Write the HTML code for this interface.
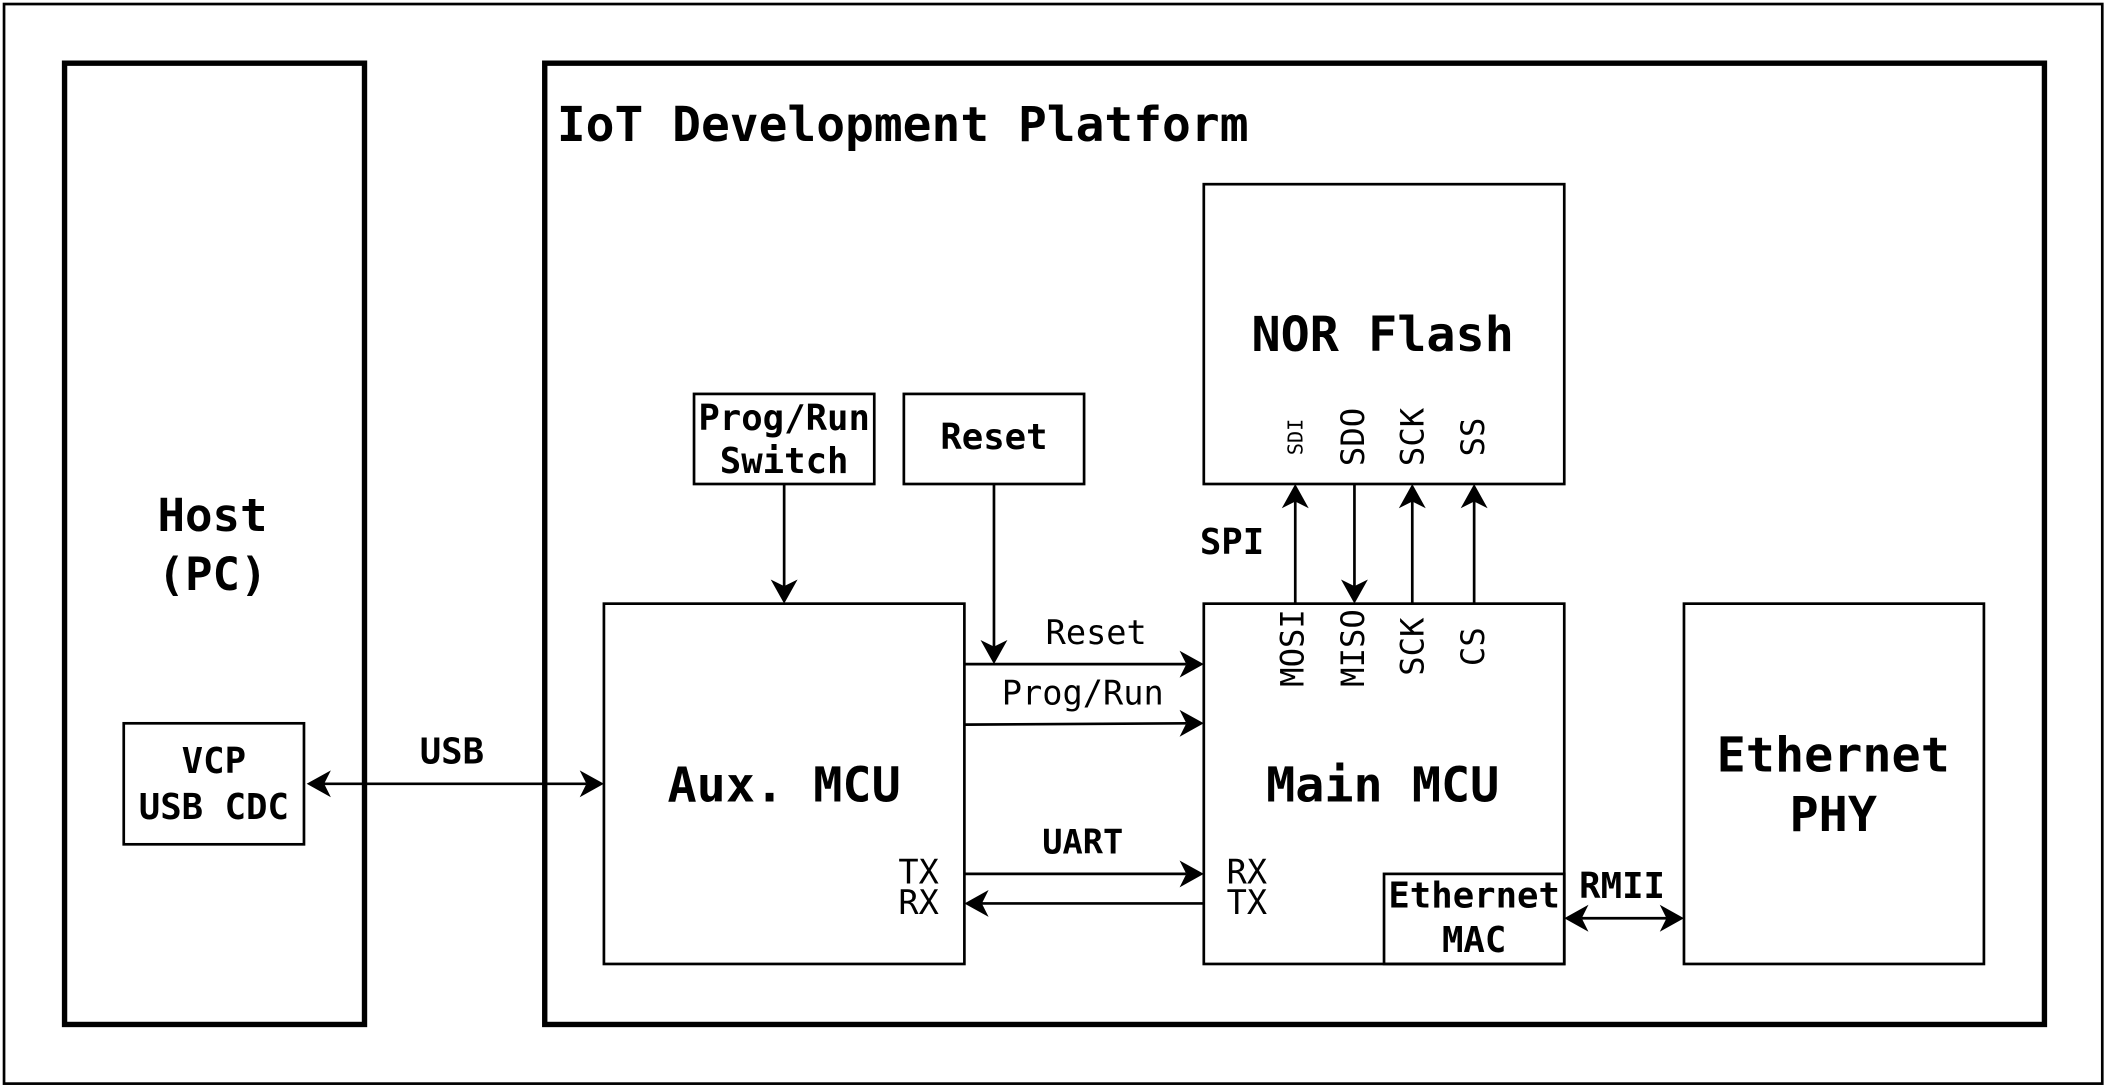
<!DOCTYPE html>
<html><head><meta charset="utf-8"><style>
html,body{margin:0;padding:0;background:#fff;}
svg{display:block;}
text{font-family:"DejaVu Sans Mono","Liberation Mono",monospace;fill:#000;}
.b{font-weight:bold;}
</style></head><body>
<svg width="2109" height="1089" viewBox="0 0 1568 810" preserveAspectRatio="none" xmlns="http://www.w3.org/2000/svg">
<g fill="none" stroke="#000">
<rect x="3" y="3" width="1560" height="803" stroke-width="2"/>
<rect x="48" y="47" width="223" height="715" stroke-width="4"/>
<rect x="405" y="47" width="1115" height="715" stroke-width="4"/>
<g stroke-width="2">
<rect x="895" y="137" width="268" height="223"/>
<rect x="516" y="293" width="134" height="67"/>
<rect x="672" y="293" width="134" height="67"/>
<rect x="449" y="449" width="268" height="268"/>
<rect x="895" y="449" width="268" height="268"/>
<rect x="1252" y="449" width="223" height="268"/>
<rect x="1029" y="650" width="134" height="67"/>
<rect x="92" y="538" width="134" height="90"/>
<line x1="240" y1="583" x2="436" y2="583"/>
<line x1="583" y1="360" x2="583" y2="436"/>
<line x1="739" y1="360" x2="739" y2="481"/>
<line x1="717" y1="494" x2="882" y2="494"/>
<line x1="717" y1="539" x2="882" y2="538"/>
<line x1="717" y1="650" x2="882" y2="650"/>
<line x1="730" y1="672" x2="895" y2="672"/>
<line x1="963" y1="449" x2="963" y2="373"/>
<line x1="1007" y1="360" x2="1007" y2="436"/>
<line x1="1050" y1="449" x2="1050" y2="373"/>
<line x1="1096" y1="449" x2="1096" y2="373"/>
<line x1="1176" y1="683" x2="1239" y2="683"/>
</g>
</g>
<g fill="#000">
<polygon points="228,583 246,573 241,583 246,593"/>
<polygon points="449,583 431,573 436,583 431,593"/>
<polygon points="583,449 573,431 583,436 593,431"/>
<polygon points="739,494 729,476 739,481 749,476"/>
<polygon points="895,494 877,484 882,494 877,504"/>
<polygon points="895,538 877,528 882,538 877,548"/>
<polygon points="895,650 877,640 882,650 877,660"/>
<polygon points="717,672 735,662 730,672 735,682"/>
<polygon points="963,360 953,378 963,373 973,378"/>
<polygon points="1007,449 997,431 1007,436 1017,431"/>
<polygon points="1050,360 1040,378 1050,373 1060,378"/>
<polygon points="1096,360 1086,378 1096,373 1106,378"/>
<polygon points="1163,683 1181,673 1176,683 1181,693"/>
<polygon points="1252,683 1234,673 1239,683 1234,693"/>
</g>
<text x="414" y="105" class="b" font-size="35.6">IoT Development Platform</text>
<text x="158" y="395" class="b" font-size="34" text-anchor="middle">Host</text>
<text x="158" y="439" class="b" font-size="34" text-anchor="middle">(PC)</text>
<text x="159" y="575" class="b" font-size="26.5" text-anchor="middle">VCP</text>
<text x="159" y="609" class="b" font-size="26.5" text-anchor="middle">USB CDC</text>
<text x="336" y="568" class="b" font-size="26.5" text-anchor="middle">USB</text>
<text x="583" y="320" class="b" font-size="26.5" text-anchor="middle">Prog/Run</text>
<text x="583" y="352" class="b" font-size="26.5" text-anchor="middle">Switch</text>
<text x="739" y="334" class="b" font-size="26.5" text-anchor="middle">Reset</text>
<text x="1028" y="261" class="b" font-size="36" text-anchor="middle">NOR Flash</text>
<text x="583" y="596" class="b" font-size="36" text-anchor="middle">Aux. MCU</text>
<text x="1028" y="596" class="b" font-size="36" text-anchor="middle">Main MCU</text>
<text x="1363" y="574" class="b" font-size="36" text-anchor="middle">Ethernet</text>
<text x="1363" y="618" class="b" font-size="36" text-anchor="middle">PHY</text>
<text x="1096" y="675" class="b" font-size="26.5" text-anchor="middle">Ethernet</text>
<text x="1096" y="708" class="b" font-size="26.5" text-anchor="middle">MAC</text>
<text x="1206" y="668" class="b" font-size="26.5" text-anchor="middle">RMII</text>
<text x="916" y="412" class="b" font-size="26.5" text-anchor="middle">SPI</text>
<text x="815" y="479" font-size="25" text-anchor="middle">Reset</text>
<text x="805" y="524" font-size="25" text-anchor="middle">Prog/Run</text>
<text x="805" y="635" class="b" font-size="25" text-anchor="middle">UART</text>
<text x="698" y="657" font-size="25" text-anchor="end">TX</text>
<text x="698" y="680" font-size="25" text-anchor="end">RX</text>
<text x="912" y="657" font-size="25">RX</text>
<text x="912" y="680" font-size="25">TX</text>
<g font-size="24" text-anchor="middle" dominant-baseline="central">
<text transform="translate(963,325) rotate(-90)" font-size="15">SDI</text>
<text transform="translate(1006,325) rotate(-90)">SDO</text>
<text transform="translate(1050,325) rotate(-90)">SCK</text>
<text transform="translate(1095,325) rotate(-90)">SS</text>
<text transform="translate(961,482) rotate(-90)">MOSI</text>
<text transform="translate(1006,482) rotate(-90)">MISO</text>
<text transform="translate(1050,481) rotate(-90)">SCK</text>
<text transform="translate(1095,481) rotate(-90)">CS</text>
</g>
</svg>
</body></html>
